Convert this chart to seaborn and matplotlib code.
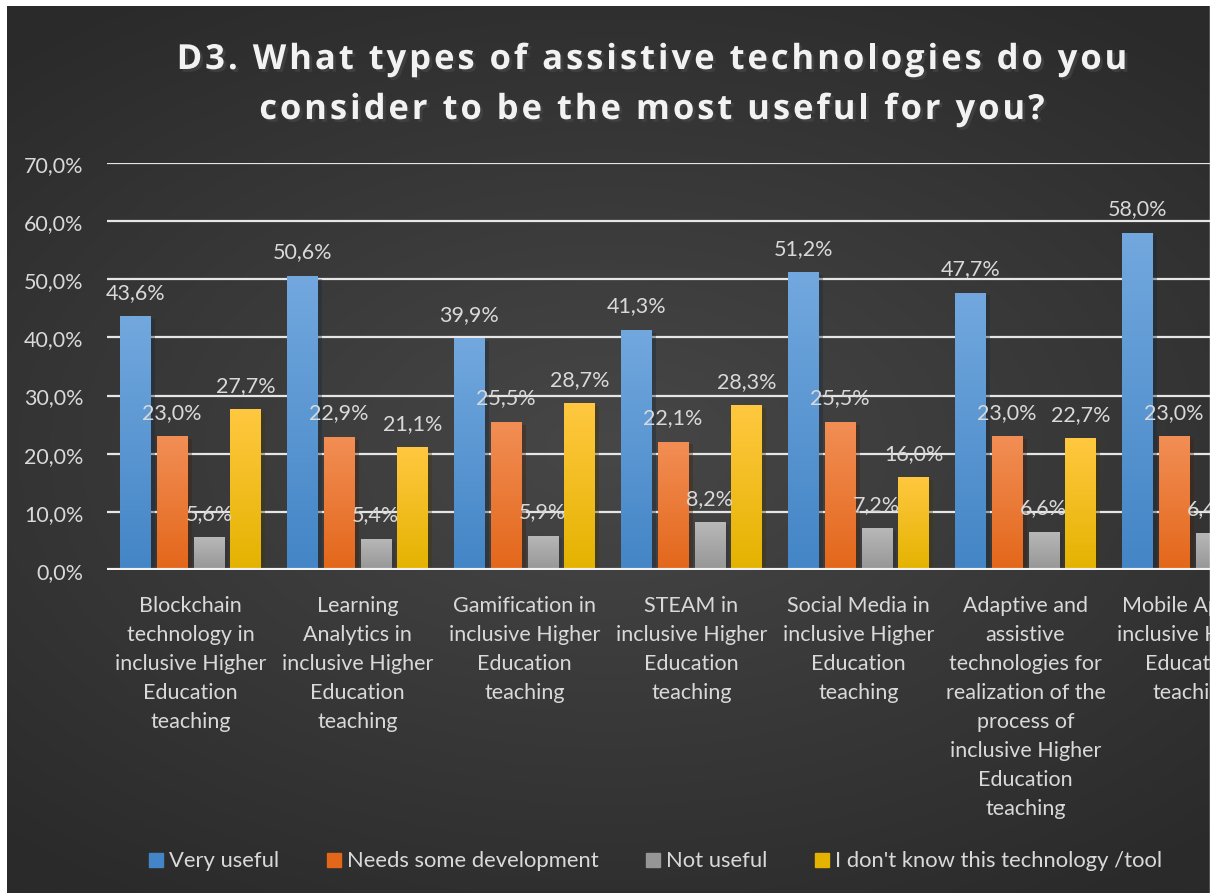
import numpy as np
import pandas as pd
import matplotlib
matplotlib.use("Agg")
import matplotlib.pyplot as plt
import matplotlib.patheffects as pe
from matplotlib.patches import Rectangle
from matplotlib.font_manager import FontProperties
import seaborn as sns

# ---- data -------------------------------------------------------------
categories = [
    "Blockchain\ntechnology in\ninclusive Higher\nEducation\nteaching",
    "Learning\nAnalytics in\ninclusive Higher\nEducation\nteaching",
    "Gamification in\ninclusive Higher\nEducation\nteaching",
    "STEAM in\ninclusive Higher\nEducation\nteaching",
    "Social Media in\ninclusive Higher\nEducation\nteaching",
    "Adaptive and\nassistive\ntechnologies for\nrealization of the\nprocess of\ninclusive Higher\nEducation\nteaching",
    "Mobile Apps in\ninclusive Higher\nEducation\nteaching",
]
series = ["Very useful", "Needs some development", "Not useful",
          "I don't know this technology /tool"]
very_useful = [43.6, 50.6, 39.9, 41.3, 51.2, 47.7, 58.0]
needs_development = [23.0, 22.9, 25.5, 22.1, 25.5, 23.0, 23.0]
not_useful = [5.6, 5.4, 5.9, 8.2, 7.2, 6.6, 6.4]
dont_know = [27.7, 21.1, 28.7, 28.3, 16.0, 22.7, 12.6]
y_ticks = [0, 10, 20, 30, 40, 50, 60, 70]
title_lines = ["D3. What types of assistive technologies do you",
               "consider to be the most useful for you?"]

values = [very_useful, needs_development, not_useful, dont_know]
df = pd.DataFrame({
    "category": np.tile(categories, len(series)),
    "series": np.repeat(series, len(categories)),
    "value": np.concatenate(values),
})

# bar gradients (top colour, bottom colour)
grad = {
    "Very useful": ("#72a8de", "#4385c6"),
    "Needs some development": ("#f28e55", "#e3671a"),
    "Not useful": ("#b8b8b8", "#969696"),
    "I don't know this technology /tool": ("#ffc840", "#e4b300"),
}
palette = {k: v[1] for k, v in grad.items()}

TXT = "#d9d9d9"
FONT = "Lato"
LBL = 15.5

sns.set_theme(style="white")
plt.rcParams["font.family"] = [FONT, "DejaVu Sans"]

W, H = 1213, 895
fig = plt.figure(figsize=(W / 100, H / 100), dpi=100, facecolor="white")


def fx(px):
    return px / W


def fy(py):
    return 1 - py / H


# dark panel with a soft radial glow
bg = fig.add_axes([7 / W, 1 / H, (1210 - 7) / W, (894 - 7) / H], zorder=-10)
yy, xx = np.mgrid[-1:1:300j, -1:1:400j]
r = np.sqrt((xx * 0.9) ** 2 + (yy * 1.1) ** 2)
glow = np.clip(1 - r / 1.35, 0, 1)
lo, hi = np.array([0x2a, 0x2a, 0x2a]) / 255, np.array([0x47, 0x47, 0x47]) / 255
img = lo[None, None, :] + (hi - lo)[None, None, :] * glow[..., None]
bg.imshow(img, aspect="auto", extent=[0, 1, 0, 1], interpolation="bicubic")
bg.set_axis_off()

# plot area (runs past the right edge of the canvas)
ax = fig.add_axes([107 / W, (H - 571) / H, 1169 / W, 407 / H])
ax.set_facecolor("none")

sns.barplot(data=df, x="category", y="value", hue="series", order=categories,
            hue_order=series, palette=palette, width=0.88, gap=0.17,
            saturation=1, ax=ax, legend=False, zorder=3, linewidth=0)

# gradient fill, soft shadow and value label on each bar
ramp = np.linspace(0, 1, 100)[:, None]
for cont, name in zip(ax.containers, series):
    top, bot = (np.array(matplotlib.colors.to_rgb(c)) for c in grad[name])
    cimg = top[None, None, :] * (1 - ramp[..., None]) + bot[None, None, :] * ramp[..., None]
    cimg = np.repeat(cimg, 2, axis=1)
    for bar, v in zip(cont, cont.datavalues):
        bar.set_path_effects([pe.SimplePatchShadow(offset=(3, -2), alpha=0.35), pe.Normal()])
        x0, y0 = bar.get_x(), bar.get_y()
        w, h = bar.get_width(), bar.get_height()
        im = ax.imshow(cimg, extent=[x0, x0 + w, y0, y0 + h], aspect="auto",
                       origin="upper", zorder=4, interpolation="bilinear")
        im.set_clip_path(bar)
        ax.annotate(f"{v:.1f}%".replace(".", ","), (x0 + w / 2, h),
                    xytext=(0, 17.5), textcoords="offset points", ha="center",
                    va="center", color=TXT, fontsize=LBL, zorder=6,
                    annotation_clip=False)

ax.set_ylim(0, 70)
ax.set_xlim(-0.5, len(categories) - 0.5)

# axes styling
ax.set_yticks(y_ticks)
ax.set_yticklabels([f"{v:.1f}%".replace(".", ",") for v in y_ticks])
ax.yaxis.grid(True, color="#e6e6e6", lw=1.6, zorder=1)
ax.set_axisbelow(True)
for s in ax.spines.values():
    s.set_visible(False)
ax.axhline(0, color="#f2f2f2", lw=3, zorder=5)
ax.tick_params(axis="y", colors=TXT, labelsize=LBL, length=0, pad=17)
ax.tick_params(axis="x", colors=TXT, labelsize=LBL, length=0, pad=18)
for t in ax.get_xticklabels():
    t.set_linespacing(1.56)
    t.set_va("top")
ax.set_xlabel("")
ax.set_ylabel("")

# title, drawn glyph by glyph with extra tracking
renderer = fig.canvas.get_renderer()
TITLE_W = 951      # width of the first title line, px
TRACK = 3.0        # extra space between glyphs, px


def text_w(s, prop):
    return renderer.get_text_width_height_descent(s, prop, ismath=False)[0]


# pick the point size that fills the line width with the chosen tracking
first = title_lines[0]
target = TITLE_W - TRACK * (len(first) - 1)
size = 20.0
for _ in range(4):
    p = FontProperties(family="Open Sans", weight="bold", size=size)
    size *= target / text_w(first, p)
tprop = FontProperties(family="Open Sans", weight="bold", size=size)

bar_w = text_w("|", tprop)
shadow = [pe.SimplePatchShadow(offset=(2, -2), alpha=0.6), pe.Normal()]
for line, base in zip(title_lines, [70, 120]):
    total = text_w(line, tprop) + TRACK * (len(line) - 1)
    x_start = 652 - total / 2
    for i, ch in enumerate(line):
        if ch == " ":
            continue
        off = (text_w(line[:i] + "|", tprop) - bar_w) if i else 0.0
        fig.text(fx(x_start + off + i * TRACK), fy(base), ch,
                 ha="left", va="baseline", color="#f2f2f2",
                 fontproperties=tprop, path_effects=shadow)

# legend: swatch + label per series
swatch_x = [149, 327, 646, 815]
for s, sx in zip(series, swatch_x):
    fig.patches.append(Rectangle((fx(sx), fy(868)), fx(14), 14 / H,
                                 transform=fig.transFigure, color=grad[s][1],
                                 zorder=5))
    fig.text(fx(sx + 20), fy(861), s, ha="left", va="center", color=TXT,
             fontsize=15.8)

# white frame strip on the right edge
fig.patches.append(Rectangle((1210 / W, 0), 3 / W, 1, transform=fig.transFigure,
                             color="white", zorder=20))

fig.savefig("out.png", dpi=100, facecolor="white")
